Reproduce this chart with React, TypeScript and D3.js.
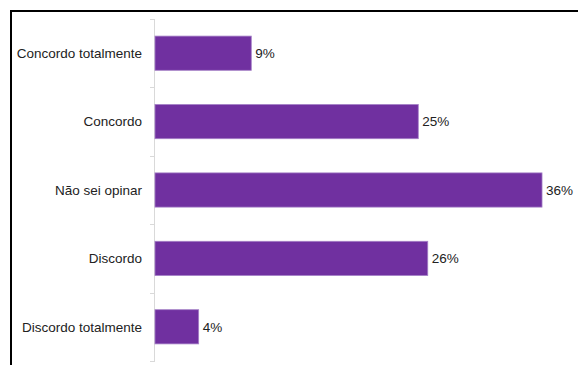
import React from "react";
import * as d3 from "d3";

const categories = ["Concordo totalmente", "Concordo", "Não sei opinar", "Discordo", "Discordo totalmente"];
const values = [9.04, 24.72, 36.34, 25.61, 4.1];

const W = 578;
const H = 365;

export default function App() {
  const x = d3.scaleLinear().domain([0, 10]).range([155, 261.5]);
  const y = d3.scaleBand().domain(categories).range([19, 361]).paddingInner(0.5).paddingOuter(0.25);
  const boundaries = d3.range(categories.length + 1).map((i) => 19 + i * ((361 - 19) / categories.length));
  const font = "Liberation Sans, Arial, sans-serif";
  return (
    <svg width={W} height={H} style={{ position: "absolute", left: 0, top: 0, background: "#fff" }}>
      <line x1={10} x2={W} y1={11} y2={11} stroke="#000" strokeWidth={2} />
      <line x1={11} x2={11} y1={10} y2={H} stroke="#000" strokeWidth={2} />
      <line x1={154.5} x2={154.5} y1={19} y2={361} stroke="#d9d9d9" strokeWidth={1} />
      {boundaries.map((b, i) => (
        <line key={i} x1={150} x2={155} y1={Math.round(b) + 0.5} y2={Math.round(b) + 0.5} stroke="#d9d9d9" strokeWidth={1} />
      ))}
      {categories.map((c, i) => {
        const yy = y(c)!;
        const bw = y.bandwidth();
        return (
          <g key={c}>
            <rect x={x(0)} y={yy} width={x(values[i]) - x(0)} height={bw} fill="#7030a0" stroke="#a47fc6" strokeWidth={0.8} />
            <text x={142} y={yy + bw / 2} dy="0.35em" textAnchor="end" fontFamily={font} fontSize={13.5} fill="#222">
              {c}
            </text>
            <text x={x(values[i]) + 4} y={yy + bw / 2} dy="0.35em" fontFamily={font} fontSize={13.5} fill="#222">
              {Math.round(values[i])}%
            </text>
          </g>
        );
      })}
    </svg>
  );
}
